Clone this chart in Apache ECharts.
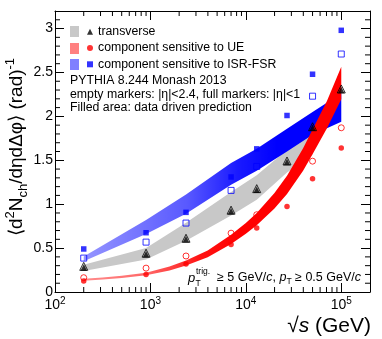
<!DOCTYPE html>
<html><head><meta charset="utf-8">
<script src="https://cdn.jsdelivr.net/npm/echarts@6/dist/echarts.min.js"></script>
<style>html,body{margin:0;padding:0;background:#fff}#c{width:382px;height:339px}</style>
</head><body><div id="c"></div>
<script>
// ---- data ----
const energies = [200, 900, 2360, 7000, 13000, 27000, 50000, 100000];
const transverseFull  = [0.28, 0.43, 0.60, 0.92, 1.165, 1.48, 1.87, 2.30];
const transverseEmpty = [0.292, 0.442, 0.612, 0.932, 1.177, 1.492, 1.882, 2.312];
const ueFull   = [0.125, 0.20, 0.32, 0.54, 0.73, 0.975, 1.29, 1.64];
const ueEmpty  = [0.163, 0.272, 0.41, 0.67, 0.88, 1.20, 1.49, 1.87];
const isrFull  = [0.49, 0.675, 0.907, 1.31, 1.63, 2.01, 2.48, 2.98];
const isrEmpty = [0.386, 0.568, 0.785, 1.157, 1.43, 1.74, 2.23, 2.71];

const grayBandX    = [200, 900, 2360, 7000, 13000, 27000, 50000];
const grayBandLow  = [0.24, 0.37, 0.585, 0.87, 1.05, 1.36, 1.57];
const grayBandHigh = [0.31, 0.50, 0.79, 1.14, 1.33, 1.62, 1.84];

const blueBandX    = [200, 900, 2360, 7000, 13000, 27000, 50000, 100000];
const blueBandLow  = [0.35, 0.66, 0.89, 1.22, 1.38, 1.60, 1.79, 1.94];
const blueBandHigh = [0.405, 0.82, 1.11, 1.47, 1.63, 1.86, 2.05, 2.26];

const redBandX    = [200, 316, 501, 900, 1585, 2360, 3981, 7000, 10000, 13000, 19953, 27000, 39811, 50000, 70795, 100000];
const redBandLow  = [0.128, 0.142, 0.160, 0.191, 0.245, 0.302, 0.396, 0.547, 0.662, 0.760, 0.952, 1.115, 1.382, 1.569, 1.864, 2.195];
const redBandHigh = [0.152, 0.166, 0.184, 0.219, 0.289, 0.358, 0.474, 0.653, 0.786, 0.900, 1.128, 1.325, 1.638, 1.851, 2.176, 2.565];

const xMin = 100, xMax = 200000, yMin = 0, yMax = 3.2;
const xMinorTicks = [200,300,400,500,600,700,800,900,2000,3000,4000,5000,6000,7000,8000,9000,
  20000,30000,40000,50000,60000,70000,80000,90000];
const yMinorTicks = [0.1,0.2,0.3,0.4,0.6,0.7,0.8,0.9,1.1,1.2,1.3,1.4,1.6,1.7,1.8,1.9,
  2.1,2.2,2.3,2.4,2.6,2.7,2.8,2.9,3.1];

const legendNames = ['transverse', 'component sensitive to UE', 'component sensitive to ISR-FSR'];
const infoLines = ['PYTHIA 8.244 Monash 2013',
  'empty markers: |η|<2.4, full markers: |η|<1',
  'Filled area: data driven prediction'];

// ---- chart ----
const FONT = '"Liberation Sans", Arial, Helvetica, sans-serif';
const TXT = 12.3;
const chart = echarts.init(document.getElementById('c'), null, {renderer: 'canvas'});

function bandSeries(name, xs, lo, hi, fill) {
  return {
    type: 'custom', name: name, coordinateSystem: 'cartesian2d',
    xAxisIndex: 0, yAxisIndex: 0, silent: true, clip: true, z: 2,
    data: xs.map((x, i) => [x, lo[i], hi[i]]),
    encode: {x: 0, y: [1, 2]},
    renderItem: function (params, api) {
      if (params.dataIndex !== 0) return null;
      const top = xs.map((x, i) => api.coord([x, hi[i]]));
      const bot = xs.map((x, i) => api.coord([x, lo[i]])).reverse();
      return {type: 'polygon', shape: {points: top.concat(bot)}, style: {fill: fill}};
    }
  };
}

const blueFill = new echarts.graphic.LinearGradient(0, 0, 1, 0, [
  {offset: 0, color: 'rgba(0,0,255,0.42)'},
  {offset: 0.4, color: 'rgba(0,0,255,0.65)'},
  {offset: 0.6, color: 'rgba(0,0,255,0.9)'},
  {offset: 0.75, color: 'rgba(0,0,255,1)'},
  {offset: 1, color: 'rgba(0,0,255,1)'}
]);
const redFill = new echarts.graphic.LinearGradient(0, 0, 1, 0, [
  {offset: 0, color: 'rgba(255,0,0,0.45)'},
  {offset: 0.25, color: 'rgba(255,0,0,0.6)'},
  {offset: 0.45, color: 'rgba(255,0,0,0.92)'},
  {offset: 0.6, color: 'rgba(255,0,0,1)'},
  {offset: 1, color: 'rgba(255,0,0,1)'}
]);

function pts(ys) { return energies.map((x, i) => [x, ys[i]]); }

const tickSeries = {
  type: 'custom', name: 'xminor', coordinateSystem: 'cartesian2d', silent: true, clip: false, z: 5,
  data: xMinorTicks.map(v => [v, yMin]),
  encode: {x: 0, y: 1},
  renderItem: function (params, api) {
    const v = api.value(0);
    const b = api.coord([v, yMin]);
    const t = api.coord([v, yMax]);
    const st = {stroke: '#000', lineWidth: 1};
    return {type: 'group', children: [
      {type: 'line', shape: {x1: b[0], y1: b[1], x2: b[0], y2: b[1] - 5}, style: st},
      {type: 'line', shape: {x1: t[0], y1: t[1], x2: t[0], y2: t[1] + 5}, style: st}
    ]};
  }
};
const yTickSeries = {
  type: 'custom', name: 'yminor', coordinateSystem: 'cartesian2d', silent: true, clip: false, z: 5,
  data: yMinorTicks.map(v => [xMin, v]),
  encode: {x: 0, y: 1},
  renderItem: function (params, api) {
    const v = api.value(1);
    const l = api.coord([xMin, v]);
    const r = api.coord([xMax, v]);
    const st = {stroke: '#000', lineWidth: 1};
    return {type: 'group', children: [
      {type: 'line', shape: {x1: l[0], y1: l[1], x2: l[0] + 5, y2: l[1]}, style: st},
      {type: 'line', shape: {x1: r[0], y1: r[1], x2: r[0] - 5, y2: r[1]}, style: st}
    ]};
  }
};

const axisLineStyle = {show: true, onZero: false, lineStyle: {color: '#000', width: 1}};

const option = {
  animation: false,
  backgroundColor: '#fff',
  grid: {left: 55, right: 12, top: 11, bottom: 47},
  xAxis: [{
    type: 'log', logBase: 10, min: xMin, max: xMax, position: 'bottom',
    axisLine: axisLineStyle,
    axisTick: {show: true, inside: true, length: 9, lineStyle: {color: '#000'}},
    splitLine: {show: false},
    axisLabel: {
      show: true, margin: 4, showMaxLabel: false, color: '#000',
      fontFamily: FONT, fontSize: 14, lineHeight: 18,
      formatter: function (v) { return '10{s|' + Math.round(Math.log10(v)) + '}'; },
      rich: {s: {fontSize: 10, fontFamily: FONT, verticalAlign: 'top', lineHeight: 10}}
    }
  }, {
    type: 'log', logBase: 10, min: xMin, max: xMax, position: 'top',
    axisLine: axisLineStyle,
    axisTick: {show: true, inside: true, length: 9, lineStyle: {color: '#000'}},
    splitLine: {show: false}, axisLabel: {show: false}
  }],
  yAxis: [{
    type: 'value', min: yMin, max: yMax, interval: 0.5, position: 'left',
    axisLine: axisLineStyle,
    axisTick: {show: true, inside: true, length: 9, lineStyle: {color: '#000'}},
    splitLine: {show: false},
    axisLabel: {show: true, margin: 2, showMaxLabel: false, color: '#000', fontFamily: FONT, fontSize: 14}
  }, {
    type: 'value', min: yMin, max: yMax, interval: 0.5, position: 'right',
    axisLine: axisLineStyle,
    axisTick: {show: true, inside: true, length: 9, lineStyle: {color: '#000'}},
    splitLine: {show: false}, axisLabel: {show: false}
  }],
  legend: {
    show: true, orient: 'vertical', left: 87, top: 24.7, itemGap: 2.3, padding: 0,
    itemWidth: 6, itemHeight: 6, selectedMode: false,
    textStyle: {fontFamily: FONT, fontSize: TXT, color: '#000', lineHeight: 14},
    data: [
      {name: legendNames[0], icon: 'triangle'},
      {name: legendNames[1], icon: 'circle'},
      {name: legendNames[2], icon: 'rect'}
    ]
  },
  series: [
    bandSeries('grayBand', grayBandX, grayBandLow, grayBandHigh, '#c8c8c8'),
    bandSeries('blueBand', blueBandX, blueBandLow, blueBandHigh, blueFill),
    bandSeries('redBand', redBandX, redBandLow, redBandHigh, redFill),
    {type: 'scatter', name: 'transverse empty', data: pts(transverseEmpty), symbol: 'triangle', symbolSize: 8,
      itemStyle: {color: 'rgba(0,0,0,0)', borderColor: '#000', borderWidth: 1}, z: 4, silent: true},
    {type: 'scatter', name: legendNames[0], data: pts(transverseFull), symbol: 'triangle', symbolSize: 6.5,
      itemStyle: {color: '#000'}, z: 4, silent: true},
    {type: 'scatter', name: 'UE empty', data: pts(ueEmpty), symbol: 'circle', symbolSize: 6,
      itemStyle: {color: 'rgba(0,0,0,0)', borderColor: '#ff0000', borderWidth: 1}, z: 4, silent: true},
    {type: 'scatter', name: legendNames[1], data: pts(ueFull), symbol: 'circle', symbolSize: 5.5,
      itemStyle: {color: '#ff0000'}, z: 4, silent: true},
    {type: 'scatter', name: 'ISR empty', data: pts(isrEmpty), symbol: 'rect', symbolSize: 6,
      itemStyle: {color: 'rgba(0,0,0,0)', borderColor: '#0000ff', borderWidth: 1}, z: 4, silent: true},
    {type: 'scatter', name: legendNames[2], data: pts(isrFull), symbol: 'rect', symbolSize: 5.5,
      itemStyle: {color: '#0000ff'}, z: 4, silent: true},
    tickSeries, yTickSeries
  ],
  graphic: [
    {type: 'rect', shape: {x: 70, y: 26, width: 9, height: 11}, style: {fill: '#c8c8c8'}},
    {type: 'rect', shape: {x: 70, y: 43, width: 9, height: 11}, style: {fill: '#ff8080'}},
    {type: 'rect', shape: {x: 70, y: 59, width: 9, height: 11}, style: {fill: '#8080ff'}},
    {type: 'text', x: 70, y: 81, style: {text: infoLines[0], font: TXT + 'px ' + FONT, fill: '#000', align: 'left', verticalAlign: 'middle'}},
    {type: 'text', x: 70, y: 94.3, style: {text: infoLines[1], font: TXT + 'px ' + FONT, fill: '#000', align: 'left', verticalAlign: 'middle'}},
    {type: 'text', x: 70, y: 107.7, style: {text: infoLines[2], font: TXT + 'px ' + FONT, fill: '#000', align: 'left', verticalAlign: 'middle'}},
    // pT annotation
    {type: 'text', x: 188, y: 278, style: {text: 'p', font: 'italic 13px ' + FONT, fill: '#000', align: 'left', verticalAlign: 'middle'}},
    {type: 'text', x: 196, y: 272, style: {text: 'trig.', font: '8.5px ' + FONT, fill: '#000', align: 'left', verticalAlign: 'middle'}},
    {type: 'text', x: 195.5, y: 284, style: {text: 'T', font: '8.5px ' + FONT, fill: '#000', align: 'left', verticalAlign: 'middle'}},
    {type: 'text', x: 361, y: 278, style: {
      text: '{n|≥ 5 GeV/}{i|c}{n|, }{i|p}{t|T}{n| ≥ 0.5 GeV/}{i|c}',
      align: 'right', verticalAlign: 'middle',
      rich: {
        n: {fontSize: 12.5, fontFamily: FONT, fill: '#000', lineHeight: 16, verticalAlign: 'middle'},
        i: {fontSize: 12.5, fontFamily: FONT, fontStyle: 'italic', fill: '#000', lineHeight: 16, verticalAlign: 'middle'},
        t: {fontSize: 8.5, fontFamily: FONT, fill: '#000', lineHeight: 9, verticalAlign: 'bottom'}
      }}},
    // x axis title
    {type: 'text', x: 371, y: 326, style: {
      text: '{n|√}{i|s}{n| (GeV)}', align: 'right', verticalAlign: 'middle',
      rich: {
        n: {fontSize: 21, fontFamily: FONT, fill: '#000'},
        i: {fontSize: 21, fontFamily: FONT, fontStyle: 'italic', fill: '#000'}
      }}},
    // y axis title
    {type: 'text', x: 17, y: 147, rotation: Math.PI / 2, style: {
      text: '{n|⟨d}{p|2}{n|N}{b|ch}{n|/dηdΔφ⟩ (rad)}{p|-1}', align: 'center', verticalAlign: 'middle',
      rich: {
        n: {fontSize: 19, fontFamily: FONT, fill: '#000', lineHeight: 26, verticalAlign: 'middle'},
        p: {fontSize: 13, fontFamily: FONT, fill: '#000', lineHeight: 13, verticalAlign: 'top'},
        b: {fontSize: 13, fontFamily: FONT, fill: '#000', lineHeight: 13, verticalAlign: 'bottom'}
      }}}
  ]
};
chart.setOption(option);
</script>
</body></html>
